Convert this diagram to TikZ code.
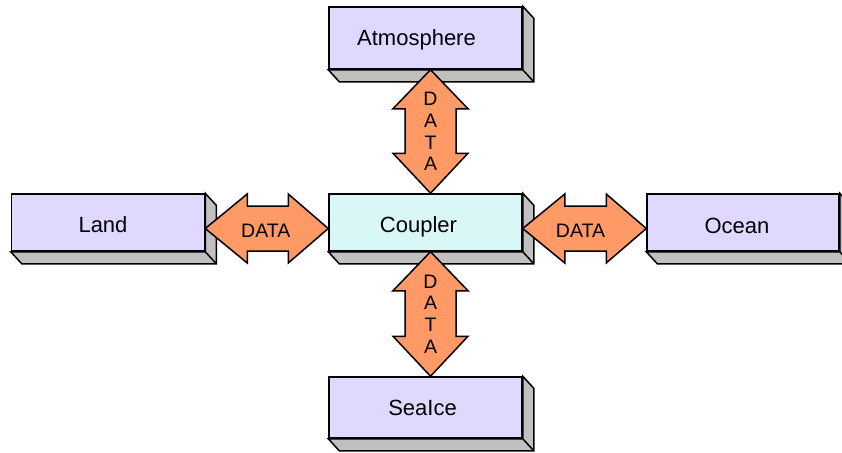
\documentclass[tikz,border=0pt]{standalone}
\usepackage{fontspec}
\setmainfont{Liberation Sans}
\usetikzlibrary{calc,backgrounds}
\definecolor{boxfill}{RGB}{224,216,255}
\definecolor{cplfill}{RGB}{218,247,247}
\definecolor{shadegray}{RGB}{192,192,192}
\definecolor{arrowfill}{RGB}{255,153,102}
\newcommand\depthbox[1]{%
  \draw[depthside] (#1.south west) -- ($(#1.south west)+(11,12)$) -- ($(#1.south east)+(11,12)$) --
    ($(#1.north east)+(11,12)$) -- (#1.north east) -- (#1.south east) -- cycle
    (#1.south east) -- ($(#1.south east)+(11,12)$);}
\newcommand\harrow[2]{%
  \draw[dataarrow] let \p1=(#1), \p2=(#2), \p3=($(#1)+(0,6)$) in
  (\x1,\y3) -- (\x1+42pt,\y3+34.5pt) -- (\x1+42pt,\y3+22.5pt) -- (\x2-40pt,\y3+22.5pt) --
  (\x2-40pt,\y3+34.5pt) -- (\x2,\y3) -- (\x2-40pt,\y3-34.5pt) -- (\x2-40pt,\y3-22.5pt) --
  (\x1+42pt,\y3-22.5pt) -- (\x1+42pt,\y3-34.5pt) -- cycle;}
\newcommand\varrow[2]{%
  \draw[dataarrow] let \p1=(#1), \p2=(#2), \p3=($(#1)+(5,0)$) in
  (\x3,\y1) -- (\x3+37.5pt,\y1-39pt) -- (\x3+25.5pt,\y1-39pt) -- (\x3+25.5pt,\y2+40pt) --
  (\x3+37.5pt,\y2+40pt) -- (\x3,\y2) -- (\x3-37.5pt,\y2+40pt) -- (\x3-25.5pt,\y2+40pt) --
  (\x3-25.5pt,\y1-39pt) -- (\x3-37.5pt,\y1-39pt) -- cycle;}
\begin{document}
\begin{tikzpicture}[x=1pt,y=-1pt,
  face/.style={draw=black,line width=1.5pt,inner sep=0pt,minimum width=193pt,minimum height=57pt},
  comp/.style={face,fill=boxfill},
  cpl/.style={face,fill=cplfill},
  depthside/.style={draw=black,line width=1.5pt,fill=shadegray,line join=miter},
  dataarrow/.style={draw=black,line width=1.5pt,fill=arrowfill,line join=miter},
  boxlabel/.style={inner sep=0pt,font=\fontsize{22}{26}\selectfont,text height=15.8pt,text depth=0pt},
  datatext/.style={inner sep=0pt,font=\fontsize{19.5}{21.7}\selectfont,align=center}]
\clip (0,0) rectangle (842,452);
\node[comp,minimum height=62pt] (atm) at (425.5,38) {};
\node[comp] (land) at (108,222.5) {};
\node[cpl] (coupler) at (425.5,222.5) {};
\node[comp,minimum width=192pt] (ocean) at (743,222.5) {};
\node[comp,minimum height=61pt] (seaice) at (425.5,407.5) {};
\begin{scope}[on background layer]
  \depthbox{atm}
  \depthbox{land}
  \depthbox{coupler}
  \depthbox{ocean}
  \depthbox{seaice}
\end{scope}
\node[boxlabel] (atmL) at ($(atm.center)+(-9,0)$) {Atmosphere};
\node[boxlabel] (landL) at ($(land.center)+(-5,2)$) {Land};
\node[boxlabel] (couplerL) at ($(coupler.center)+(-7,2)$) {Coupler};
\node[boxlabel] (oceanL) at ($(ocean.center)+(-6,3)$) {Ocean};
\node[boxlabel] (seaiceL) at ($(seaice.center)+(-3,0)$) {SeaIce};
\varrow{atm.south}{coupler.north}
\varrow{coupler.south}{seaice.north}
\harrow{land.east}{coupler.west}
\harrow{coupler.east}{ocean.west}
\node[datatext] (d1) at ($(atm.south)!0.5!(coupler.north)+(5,0)$) {D\\A\\T\\A};
\node[datatext] (d2) at ($(coupler.south)!0.5!(seaice.north)+(5,0)$) {D\\A\\T\\A};
\node[datatext] (d3) at ($(land.east)!0.5!(coupler.west)+(-1,8)$) {DATA};
\node[datatext] (d4) at ($(coupler.east)!0.5!(ocean.west)+(-4,8)$) {DATA};
\end{tikzpicture}
\end{document}
